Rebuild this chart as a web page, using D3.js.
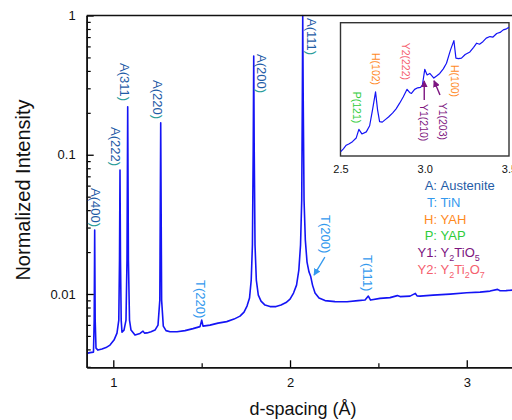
<!DOCTYPE html>
<html><head><meta charset="utf-8">
<script src="https://cdn.jsdelivr.net/npm/d3@7"></script>
<style>
body{margin:0;background:#fff;}
svg{display:block;font-family:"Liberation Sans",Arial,sans-serif;}
</style>
</head><body>
<svg id="c" width="512" height="420"></svg>
<script>
// ---------- data ----------
const mainD = [0.8495,0.8681,0.8879,0.8919,0.8947,0.8975,0.9021,0.9134,0.9360,0.9587,0.9813,1.0040,1.0209,1.0311,1.0351,1.0379,1.0407,1.0447,1.0492,1.0606,1.0719,1.0775,1.0815,1.0855,1.0917,1.1002,1.1228,1.1511,1.1681,1.1766,1.1907,1.2134,1.2360,1.2530,1.2632,1.2683,1.2734,1.2830,1.2983,1.3209,1.3605,1.4058,1.4511,1.4907,1.5003,1.5076,1.5472,1.5925,1.6418,1.6831,1.7170,1.7397,1.7566,1.7708,1.7804,1.7872,1.7917,1.7946,1.7974,1.8019,1.8093,1.8206,1.8359,1.8585,1.8868,1.9208,1.9491,1.9774,2.0000,2.0198,2.0368,2.0498,2.0594,2.0662,2.0696,2.0719,2.0747,2.0793,2.0866,2.0962,2.1075,2.1172,2.1273,2.1415,2.1641,2.1981,2.2547,2.3226,2.3849,2.4245,2.4431,2.4556,2.5093,2.5659,2.6072,2.6225,2.6791,2.7091,2.7187,2.7357,2.8093,2.9055,3.0000,3.0753,3.1319,3.1744,3.1885,3.2224,3.2564];
const mainI = [0.003744,0.003793,0.003825,0.006494,0.02878,0.006494,0.004088,0.003954,0.004020,0.004120,0.004295,0.004665,0.005236,0.006494,0.01751,0.07763,0.01751,0.006494,0.005324,0.005503,0.006494,0.01751,0.2212,0.01751,0.006494,0.005503,0.005066,0.005210,0.005412,0.005236,0.005253,0.005350,0.005503,0.005976,0.009042,0.1698,0.009042,0.005878,0.005457,0.005350,0.005350,0.005457,0.005640,0.005829,0.006494,0.005878,0.005976,0.006176,0.006332,0.006600,0.006936,0.007413,0.008185,0.009343,0.01259,0.02245,0.1081,0.5117,0.1081,0.02245,0.01259,0.009820,0.008892,0.008324,0.008120,0.008120,0.008324,0.008675,0.009191,0.01015,0.01158,0.01484,0.02245,0.04726,0.2471,1.0,0.2471,0.04726,0.02438,0.01695,0.01437,0.01334,0.01158,0.01015,0.009343,0.008966,0.008819,0.008790,0.008966,0.009042,0.009658,0.009042,0.009297,0.009419,0.009736,0.009577,0.009658,0.01010,0.009690,0.009658,0.009820,0.009984,0.01020,0.01032,0.01049,0.01079,0.01054,0.01057,0.01066];

const insetD = [2.500,2.517,2.534,2.552,2.571,2.593,2.609,2.627,2.653,2.673,2.690,2.708,2.720,2.732,2.748,2.762,2.785,2.810,2.830,2.851,2.872,2.895,2.910,2.921,2.940,2.958,2.975,2.986,3.000,3.014,3.030,3.054,3.070,3.089,3.110,3.129,3.153,3.173,3.185,3.200,3.218,3.240,3.268,3.290,3.308,3.325,3.345,3.365,3.387,3.405,3.427,3.447,3.466,3.485,3.500];
const insetI = [0.00868,0.00874,0.00881,0.00884,0.00888,0.00895,0.00912,0.00903,0.00907,0.00919,0.00950,0.00985,0.00950,0.00927,0.00926,0.00930,0.00936,0.00944,0.00952,0.00963,0.00975,0.00990,0.00984,0.00982,0.00990,0.00993,0.00994,0.00998,0.01029,0.01018,0.01021,0.01012,0.01016,0.01021,0.01030,0.01041,0.01067,0.01085,0.01051,0.01050,0.01051,0.01058,0.01063,0.01072,0.01080,0.01078,0.01083,0.01090,0.01093,0.01092,0.01099,0.01101,0.01106,0.01108,0.01111];

const xTickValues = [1, 2, 3];
const xMinorValues = [1.5, 2.5];
const yTickValues = [1, 0.1, 0.01];
const yTickLabels = ["1", "0.1", "0.01"];
const insetTickValues = [2.5, 3.0, 3.5];
const insetTickLabels = ["2.5", "3.0", "3.5"];

// peak labels in main plot: text, phase, d (label centre), intensity at label top
const mainLabelText  = ["A(400","A(222","A(311","A(220","A(200","A(111","T(220)","T(200)","T(111)"];
const mainLabelPhase = ["A","A","A","A","A","A","T","T","T"];
const mainLabelD     = [0.9049,1.0181,1.0662,1.2547,1.8415,2.1217,1.4935,2.2037,2.4431];
const mainLabelI     = [0.05765,0.1581,0.4558,0.3440,0.5289,0.9595,0.01259,0.03688,0.01903];

// inset labels
const insetLabelText  = ["P(121)","H(102)","Y2(222)","H(100)","Y1(210)","Y1(203)"];
const insetLabelPhase = ["P","H","Y2","H","Y1","Y1"];
const insetLabelD     = [2.596,2.709,2.889,3.180,2.997,3.110];
const insetLabelI     = [0.009854,0.010609,0.010810,0.010375,0.009614,0.009640];

// arrows: [d0, i0, d1, i1]
const mainArrows  = [[2.1971,0.01841,2.1358,0.01367]];
const insetArrows = [[2.997,0.009692,2.997,0.010063],[3.0905,0.009790,3.0549,0.010069]];

// legend
const legendKeys = ["A:","T:","H:","P:","Y1:","Y2:"];
const legendPhase = ["A","T","H","P","Y1","Y2"];
const legendNames = [
  [["Austenite",0]],
  [["TiN",0]],
  [["YAH",0]],
  [["YAP",0]],
  [["Y",0],["2",1],["TiO",0],["5",1]],
  [["Y",0],["2",1],["Ti",0],["2",1],["O",0],["7",1]]
];

const phaseColor = {A:"#1f5ca6", T:"#3399ee", H:"#ff8a1f", P:"#2fcc3a", Y1:"#7d1580", Y2:"#f5606e"};
const tealParen = "#2a9d9a";
const lineColor = "#1414f5";

// ---------- drawing ----------
const svg = d3.select("#c");
const L = 86.7, R = 512, T = 15.5, B = 367.3;
const x = d3.scaleLinear().domain([0.8495, 3.256]).range([L, R]);
const y = d3.scaleLog().domain([0.002975, 1]).range([B, T]);

const defs = svg.append("defs");
defs.append("clipPath").attr("id","mclip").append("rect")
  .attr("x",L).attr("y",T-1).attr("width",R-L+2).attr("height",B-T+1);
function marker(id, color){
  defs.append("marker").attr("id",id).attr("viewBox","0 0 10 10")
    .attr("refX",9).attr("refY",5).attr("markerWidth",7).attr("markerHeight",7)
    .attr("orient","auto").attr("markerUnits","userSpaceOnUse")
    .append("path").attr("d","M0,0 L10,5 L0,10 z").attr("fill",color);
}
marker("arT", phaseColor.T);
marker("arY1", phaseColor.Y1);

// main curve
const mainData = mainD.map((d,i)=>[d, mainI[i]]);
svg.append("path").datum(mainData)
  .attr("clip-path","url(#mclip)")
  .attr("fill","none").attr("stroke",lineColor).attr("stroke-width",1.6)
  .attr("stroke-linejoin","round")
  .attr("d", d3.line().x(p=>x(p[0])).y(p=>y(p[1])));

// axes
const fmtY = d => { const i = yTickValues.indexOf(d); return i>=0 ? yTickLabels[i] : ""; };
const yMinor = [];
[0.001,0.01,0.1].forEach(dec=>{ for(let k=2;k<=9;k++){ const v=+(dec*k).toPrecision(3); if(v>=0.002975 && v<=1) yMinor.push(v);} });

const gy = svg.append("g").attr("transform",`translate(${L},0)`);
gy.call(d3.axisLeft(y).tickValues(yMinor).tickSizeInner(-4).tickSizeOuter(0).tickFormat(""));
gy.call(g=>g.selectAll(".tick line").attr("stroke-width",1.2));
const gy2 = svg.append("g").attr("transform",`translate(${L},0)`);
gy2.call(d3.axisLeft(y).tickValues(yTickValues).tickSizeInner(-7).tickSizeOuter(0).tickPadding(11).tickFormat(fmtY));
gy2.selectAll(".tick line").attr("stroke-width",1.3);
gy2.selectAll("text").attr("font-size",13).attr("font-family","Liberation Sans, Arial, sans-serif").attr("fill","#111");
[gy,gy2].forEach(g=>g.select(".domain").attr("stroke-width",1.6).attr("stroke","#111"));

const gx = svg.append("g").attr("transform",`translate(0,${B})`);
gx.call(d3.axisBottom(x).tickValues(xMinorValues).tickSizeInner(-4).tickSizeOuter(0).tickFormat(""));
gx.selectAll(".tick line").attr("stroke-width",1.2);
const gx2 = svg.append("g").attr("transform",`translate(0,${B})`);
gx2.call(d3.axisBottom(x).tickValues(xTickValues).tickSizeInner(-7).tickSizeOuter(0).tickPadding(10).tickFormat(d3.format("d")));
gx2.selectAll(".tick line").attr("stroke-width",1.3);
gx2.selectAll("text").attr("font-size",13).attr("font-family","Liberation Sans, Arial, sans-serif").attr("fill","#111");
[gx,gx2].forEach(g=>g.select(".domain").attr("stroke-width",1.6).attr("stroke","#111"));

// top frame line
svg.append("line").attr("x1",L).attr("x2",R).attr("y1",T).attr("y2",T)
  .attr("stroke","#111").attr("stroke-width",1.6);

// axis titles
svg.append("text").attr("x",303).attr("y",415).attr("text-anchor","middle")
  .attr("font-size",18).attr("fill","#111").text("d-spacing (Å)");
svg.append("text").attr("transform","translate(30,190) rotate(-90)").attr("text-anchor","middle")
  .attr("font-size",20).attr("fill","#111").text("Normalized Intensity");

// main peak labels
mainLabelText.forEach((t,i)=>{
  const ph = mainLabelPhase[i];
  const tx = svg.append("text")
    .attr("transform",`translate(${x(mainLabelD[i])},${y(mainLabelI[i])}) rotate(90)`)
    .attr("dominant-baseline","central").attr("font-size",13)
    .attr("fill",phaseColor[ph]);
  tx.append("tspan").text(t);
  if(ph==="A") tx.append("tspan").attr("fill",tealParen).text(")");
});
mainArrows.forEach(a=>{
  svg.append("line").attr("x1",x(a[0])).attr("y1",y(a[1])).attr("x2",x(a[2])).attr("y2",y(a[3]))
    .attr("stroke",phaseColor.T).attr("stroke-width",1.3).attr("marker-end","url(#arT)");
});

// legend
const legX = 437, legY0 = 185.5, legStep = 16.7;
legendKeys.forEach((k,i)=>{
  const yy = legY0 + i*legStep + 4.6;
  const c = phaseColor[legendPhase[i]];
  svg.append("text").attr("x",legX).attr("y",yy).attr("text-anchor","end")
    .attr("font-size",13).attr("fill",c).text(k);
  const t = svg.append("text").attr("x",legX+3.6).attr("y",yy).attr("font-size",13).attr("fill",c);
  let sub = 0;
  legendNames[i].forEach(seg=>{
    const s = t.append("tspan").text(seg[0]);
    if(seg[1] && !sub){ s.attr("dy",4).attr("font-size",9); sub=1; }
    else if(seg[1] && sub){ s.attr("font-size",9); }
    else if(!seg[1] && sub){ s.attr("dy",-4); sub=0; }
  });
});

// ---------- inset ----------
const iL = 340.5, iR = 509, iT = 22.7, iB = 156;
const xi = d3.scaleLinear().domain([2.5, 3.5]).range([iL, iR]);
const yi = d3.scaleLinear().domain([0.0086, 0.0112]).range([iB, iT]);
svg.append("rect").attr("x",iL).attr("y",iT).attr("width",iR-iL).attr("height",iB-iT)
  .attr("fill","#fff").attr("stroke","#333").attr("stroke-width",1.4);
defs.append("clipPath").attr("id","iclip").append("rect")
  .attr("x",iL).attr("y",iT).attr("width",iR-iL).attr("height",iB-iT);
const insetData = insetD.map((d,i)=>[d, insetI[i]]);
svg.append("path").datum(insetData).attr("clip-path","url(#iclip)")
  .attr("fill","none").attr("stroke",lineColor).attr("stroke-width",1.2)
  .attr("stroke-linejoin","round")
  .attr("d", d3.line().x(p=>xi(p[0])).y(p=>yi(p[1])));
const gi = svg.append("g").attr("transform",`translate(0,${iB})`);
gi.call(d3.axisBottom(xi).tickValues(insetTickValues).tickSize(0).tickPadding(9)
  .tickFormat(d=>insetTickLabels[insetTickValues.indexOf(d)]));
gi.select(".domain").remove();
gi.selectAll("text").attr("font-size",11).attr("font-family","Liberation Sans, Arial, sans-serif").attr("fill","#111");

insetLabelText.forEach((t,i)=>{
  svg.append("text")
    .attr("transform",`translate(${xi(insetLabelD[i])},${yi(insetLabelI[i])}) rotate(90)`)
    .attr("dominant-baseline","central").attr("font-size",10.5)
    .attr("fill",phaseColor[insetLabelPhase[i]]).text(t);
});
insetArrows.forEach(a=>{
  svg.append("line").attr("x1",xi(a[0])).attr("y1",yi(a[1])).attr("x2",xi(a[2])).attr("y2",yi(a[3]))
    .attr("stroke",phaseColor.Y1).attr("stroke-width",1.4).attr("marker-end","url(#arY1)");
});
</script>
</body></html>
